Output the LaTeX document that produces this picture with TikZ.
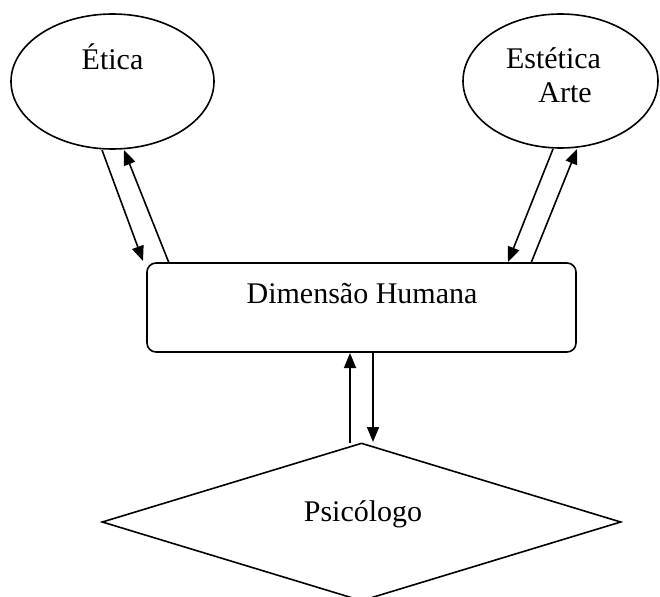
\documentclass[tikz,border=0pt]{standalone}
\usepackage{fontspec}
\setmainfont{Liberation Serif}
\usetikzlibrary{shapes.geometric,arrows.meta}
\begin{document}
\begin{tikzpicture}[x=1pt,y=-1pt,
  shapeline/.style={draw=black,line width=1.6pt},
  txt/.style={anchor=base,inner sep=0pt,font=\fontsize{30}{34}\selectfont},
  conn/.style={line width=1.6pt,-{Triangle[length=15pt,width=12pt]}}]
\useasboundingbox (0,0) rectangle (660,596);
\fill[white] (0,0) rectangle (660,596);
% shapes
\node[shapeline,ellipse,minimum width=203pt,minimum height=135pt,inner sep=0pt] (etica) at (112.5,81.5) {};
\node[shapeline,ellipse,minimum width=195pt,minimum height=134pt,inner sep=0pt] (estetica) at (560.5,81) {};
\node[shapeline,rectangle,rounded corners=9pt,minimum width=429pt,minimum height=89pt,inner sep=0pt] (dim) at (361.5,307.5) {};
\node[shapeline,diamond,minimum width=519pt,minimum height=158pt,inner sep=0pt] (psi) at (361.5,522) {};
% texts
\node[txt] (teti) at (112.5,70) {Ética};
\node[txt] (test) at (553.5,69) {Estética};
\node[txt] (tarte) at (565,103) {Arte};
\node[txt] (tdim) at (362,303) {Dimensão Humana};
\node[txt] (tpsi) at (363,521) {Psicólogo};
% connector end points
\coordinate (a1s) at (102,150);  \coordinate (a1e) at (143,261);
\coordinate (a2s) at (169,263);  \coordinate (a2e) at (124,150);
\coordinate (b1s) at (553,149);  \coordinate (b1e) at (508,262);
\coordinate (b2s) at (531,263);  \coordinate (b2e) at (577,149);
\coordinate (c1s) at (350,443);  \coordinate (c1e) at (350,353);
\coordinate (c2s) at (373,352);  \coordinate (c2e) at (373,442);
% connectors
\draw[conn] (a1s) -- (a1e);
\draw[conn] (a2s) -- (a2e);
\draw[conn] (b1s) -- (b1e);
\draw[conn] (b2s) -- (b2e);
\draw[conn] (c1s) -- (c1e);
\draw[conn] (c2s) -- (c2e);
\end{tikzpicture}
\end{document}
